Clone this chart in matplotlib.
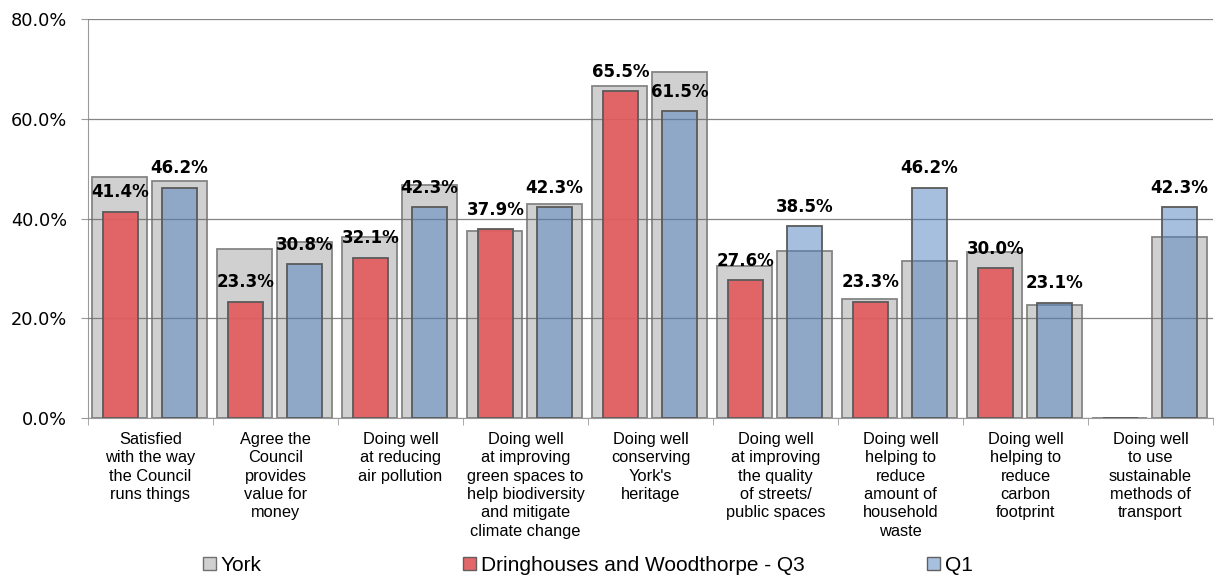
import numpy as np
import matplotlib.pyplot as plt
from matplotlib.patches import Patch

# Categorias y valores (%)
categorias = [
    "Satisfied\nwith the way\nthe Council\nruns things",
    "Agree the\nCouncil\nprovides\nvalue for\nmoney",
    "Doing well\nat reducing\nair pollution",
    "Doing well\nat improving\ngreen spaces to\nhelp biodiversity\nand mitigate\nclimate change",
    "Doing well\nconserving\nYork's\nheritage",
    "Doing well\nat improving\nthe quality\nof streets/\npublic spaces",
    "Doing well\nhelping to\nreduce\namount of\nhousehold\nwaste",
    "Doing well\nhelping to\nreduce\ncarbon\nfootprint",
    "Doing well\nto use\nsustainable\nmethods of\ntransport",
]
york_q3 = [48.4, 33.9, 36.3, 37.5, 66.6, 30.5, 23.8, 33.2, 0.0]
york_q1 = [47.5, 35.2, 46.8, 42.9, 69.3, 33.5, 31.5, 22.6, 36.3]
q3 = [41.4, 23.3, 32.1, 37.9, 65.5, 27.6, 23.3, 30.0, 0.0]
q1 = [46.2, 30.8, 42.3, 42.3, 61.5, 38.5, 46.2, 23.1, 42.3]

x = np.arange(len(categorias))

fig = plt.figure(figsize=(12.15, 5.76), dpi=100)
ax = fig.add_axes([0.0724, 0.2743, 0.926, 0.6927])

gris = '#d0d0d0'
rojo = (0.89, 0.36, 0.37, 0.92)
azul = (0.31, 0.506, 0.757, 0.5)

# Barras York (detras)
ax.bar(x - 0.245, york_q3, width=0.44, color=gris, edgecolor='#858585', linewidth=1.3, zorder=2)
ax.bar(x + 0.235, york_q1, width=0.44, color=gris, edgecolor='#858585', linewidth=1.3, zorder=2)

# Barras Q3 y Q1
b3 = ax.bar(x - 0.24, q3, width=0.28, color=rojo, edgecolor='#5a5a5a', linewidth=1.3, zorder=3)
b1 = ax.bar(x + 0.232, q1, width=0.28, color=azul, edgecolor='#5a5a5a', linewidth=1.3, zorder=3)

# Etiquetas de datos
for xs, vals in [(x - 0.24, q3), (x + 0.232, q1)]:
    for xi, v in zip(xs, vals):
        if v > 0:
            ax.annotate(f"{v:.1f}%", (xi, v), xytext=(0, 14), textcoords='offset points',
                        ha='center', va='center', fontsize=12, fontweight='bold', zorder=5)

# Ejes
ax.set_xlim(-0.5, len(categorias) - 0.5)
ax.set_ylim(0, 80)
ax.set_yticks([0, 20, 40, 60, 80])
ax.set_yticklabels([f"{t:.1f}%" for t in [0, 20, 40, 60, 80]], fontsize=12.8)
ax.yaxis.grid(True, color='#6e6e6e', linewidth=0.9, alpha=0.85, zorder=4)
ax.set_axisbelow(False)
for s in ['top', 'right']:
    ax.spines[s].set_visible(False)
ax.spines['left'].set_color('#9a9a9a')
ax.spines['bottom'].set_color('#9a9a9a')
ax.spines['left'].set_zorder(1)
ax.tick_params(axis='y', length=5, color='#9a9a9a', pad=10)

ax.set_xticks(x)
ax.set_xticklabels(categorias, fontsize=11.8, family='Liberation Sans', linespacing=1.28)
ax.set_xticks(np.arange(len(categorias) + 1) - 0.5, minor=True)
ax.tick_params(axis='x', which='major', length=0, pad=10)
ax.tick_params(axis='x', which='minor', length=5, color='#9a9a9a')

# Leyenda
entradas = [('York', gris, '#707070', 203),
            ('Dringhouses and Woodthorpe - Q3', (0.89, 0.40, 0.41), '#606060', 463),
            ('Q1', '#a7c0e0', '#606060', 927)]
for nombre, fc, ec, px in entradas:
    h = Patch(facecolor=fc, edgecolor=ec, linewidth=1.0, label=nombre)
    fig.legend(handles=[h], loc='center left', bbox_to_anchor=(px / 1215, 0.019),
               frameon=False, handlelength=0.6, handleheight=0.6, handletextpad=0.25,
               borderpad=0, borderaxespad=0, prop={'family': 'Liberation Sans', 'size': 15})

fig.savefig('out.png', dpi=100)
